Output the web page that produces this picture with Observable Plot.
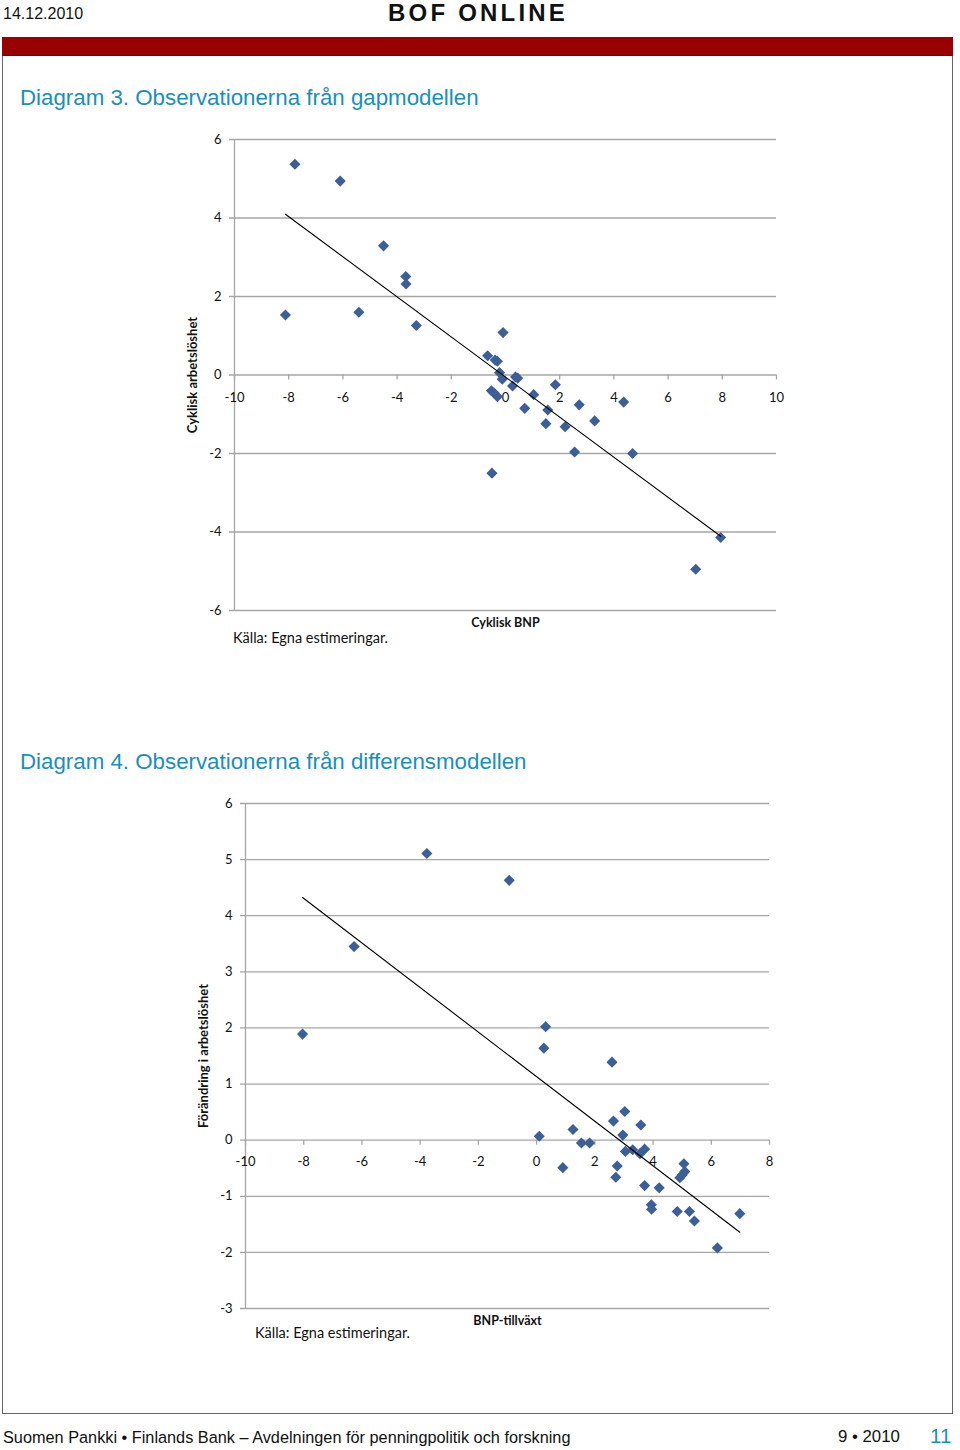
<!DOCTYPE html>
<html><head><meta charset="utf-8">
<script src="https://cdn.jsdelivr.net/npm/d3@7"></script>
<script src="https://cdn.jsdelivr.net/npm/@observablehq/plot@0.6"></script>
<style>
body{margin:0;width:960px;height:1450px;position:relative;background:#fff;font-family:"Liberation Sans",Arial,sans-serif;overflow:hidden;}
.abs{position:absolute;white-space:nowrap;line-height:1;}
.title{color:#1b8fba;font-size:22.3px;left:20px;}
.kalla{font-family:Lato,sans-serif;font-size:14.5px;color:#111;}
.chart{position:absolute;}
</style></head><body>
<div class="abs" style="left:3px;top:6px;font-size:16px;color:#111">14.12.2010</div>
<div class="abs" style="left:388px;top:1px;font-size:24px;font-weight:bold;letter-spacing:3.2px;color:#111">BOF ONLINE</div>
<div class="abs" style="left:2px;top:37px;width:951px;height:18px;background:#990000;border-bottom:1px solid #5a1010"></div>
<div class="abs" style="left:2px;top:56px;width:949px;height:1357px;border:1px solid #666;border-top:none"></div>
<div class="abs title" style="top:87px">Diagram 3. Observationerna från gapmodellen</div>
<div class="abs title" style="top:751px">Diagram 4. Observationerna från differensmodellen</div>
<div id="c1" class="chart" style="left:180px;top:130px"></div>
<div id="c2" class="chart" style="left:180px;top:790px"></div>
<div class="abs kalla" style="left:233px;top:631px">Källa: Egna estimeringar.</div>
<div class="abs kalla" style="left:255px;top:1326px">Källa: Egna estimeringar.</div>
<div class="abs" style="left:3px;top:1429px;font-size:16.3px;color:#111">Suomen Pankki • Finlands Bank – Avdelningen för penningpolitik och forskning</div>
<div class="abs" style="left:838px;top:1429px;font-size:16.8px;color:#111">9 • 2010</div>
<div class="abs" style="left:930px;top:1426px;font-size:20.5px;color:#1b8fba">11</div>
<script>
// Diagram 3: gap model
const gapBNP = [-7.77,-6.10,-4.50,-3.68,-3.67,-8.12,-5.41,-3.29,-0.09,-0.66,-0.38,-0.30,-0.22,-0.12,0.37,0.45,0.26,1.84,-0.52,-0.42,-0.30,1.04,0.71,1.56,2.72,4.36,1.49,2.20,3.29,2.55,4.69,-0.50,7.94,7.02];
const gapArb = [5.37,4.94,3.29,2.51,2.32,1.53,1.60,1.26,1.08,0.49,0.38,0.35,0.06,-0.11,-0.05,-0.08,-0.28,-0.25,-0.40,-0.46,-0.55,-0.50,-0.85,-0.89,-0.76,-0.69,-1.24,-1.32,-1.17,-1.96,-2.00,-2.50,-4.14,-4.95];
const gapXTicks = [-10,-8,-6,-4,-2,0,2,4,6,8,10];
const gapYTicks = [-6,-4,-2,0,2,4,6];
// Diagram 4: difference model
const diffBNP = [-8.04,-6.27,-3.77,-0.94,0.31,0.25,2.59,3.03,2.64,3.58,1.25,0.09,2.96,1.54,1.82,3.05,3.30,3.55,3.71,0.90,2.77,2.72,3.71,4.21,5.06,5.09,5.00,4.92,3.94,3.95,4.83,5.25,5.42,6.98,6.21];
const diffArb = [1.89,3.45,5.11,4.63,2.02,1.64,1.39,0.51,0.34,0.27,0.19,0.07,0.09,-0.05,-0.05,-0.20,-0.17,-0.24,-0.16,-0.49,-0.46,-0.66,-0.81,-0.85,-0.42,-0.56,-0.62,-0.67,-1.15,-1.23,-1.27,-1.27,-1.44,-1.31,-1.92];
const diffXTicks = [-10,-8,-6,-4,-2,0,2,4,6,8];
const diffYTicks = [-3,-2,-1,0,1,2,3,4,5,6];

const GRID = "#a6a6a6";
function chart(o) {
  const data = o.xs.map((x, i) => ({x, y: o.ys[i]}));
  return Plot.plot({
    width: o.width, height: o.height,
    marginLeft: o.marginLeft, marginRight: o.marginRight, marginTop: o.marginTop, marginBottom: o.marginBottom,
    style: {fontFamily: "Lato, sans-serif", fontSize: "13px", color: "#111", background: "transparent", overflow: "visible"},
    x: {domain: o.xDomain, axis: null},
    y: {domain: o.yDomain},
    marks: [
      Plot.ruleY(o.yTicks, {stroke: GRID, strokeWidth: 1.3, insetLeft: -5}),
      Plot.ruleX([o.xDomain[0]], {stroke: GRID, strokeWidth: 1.3}),
      Plot.axisY({ticks: o.yTicks, tickSize: 0, tickPadding: 13, tickFormat: d => String(d), label: null, fontSize: 13}),
      Plot.ruleX(o.xTicks, {x: d => d, y1: 0, y2: 0, insetBottom: -5, stroke: GRID, strokeWidth: 1.3}),
      Plot.text(o.xTicks, {x: d => d, y: 0, dy: o.xLabelDy, text: d => String(d), fontSize: 13}),
      Plot.dot(data, {x: "x", y: "y", symbol: "diamond2", r: 5, fill: "#3c5f99"}),
      Plot.linearRegressionY(data, {x: "x", y: "y", ci: 0, stroke: "#000", strokeWidth: 1.1}),
      Plot.text([o.yTitle], {text: d => d, frameAnchor: "left", textAnchor: "middle", lineAnchor: "middle", rotate: -90, dx: -42, fontWeight: "bold", fontSize: 13}),
      Plot.text([o.xTitle], {text: d => d, frameAnchor: "bottom", textAnchor: "middle", lineAnchor: "middle", dy: 12, fontWeight: "bold", fontSize: 12.5})
    ]
  });
}

document.getElementById("c1").append(chart({
  xs: gapBNP, ys: gapArb, xDomain: [-10, 10], yDomain: [-6, 6],
  xTicks: gapXTicks, yTicks: gapYTicks, xLabelDy: 23,
  xTitle: "Cyklisk BNP", yTitle: "Cyklisk arbetslöshet",
  width: 600, height: 500, marginLeft: 54, marginRight: 4, marginTop: 9, marginBottom: 20
}));
document.getElementById("c2").append(chart({
  xs: diffBNP, ys: diffArb, xDomain: [-10, 8], yDomain: [-3, 6],
  xTicks: diffXTicks, yTicks: diffYTicks, xLabelDy: 22,
  xTitle: "BNP-tillväxt", yTitle: "Förändring i arbetslöshet",
  width: 600, height: 538, marginLeft: 65, marginRight: 11, marginTop: 13, marginBottom: 20
}));
</script>
</body></html>
